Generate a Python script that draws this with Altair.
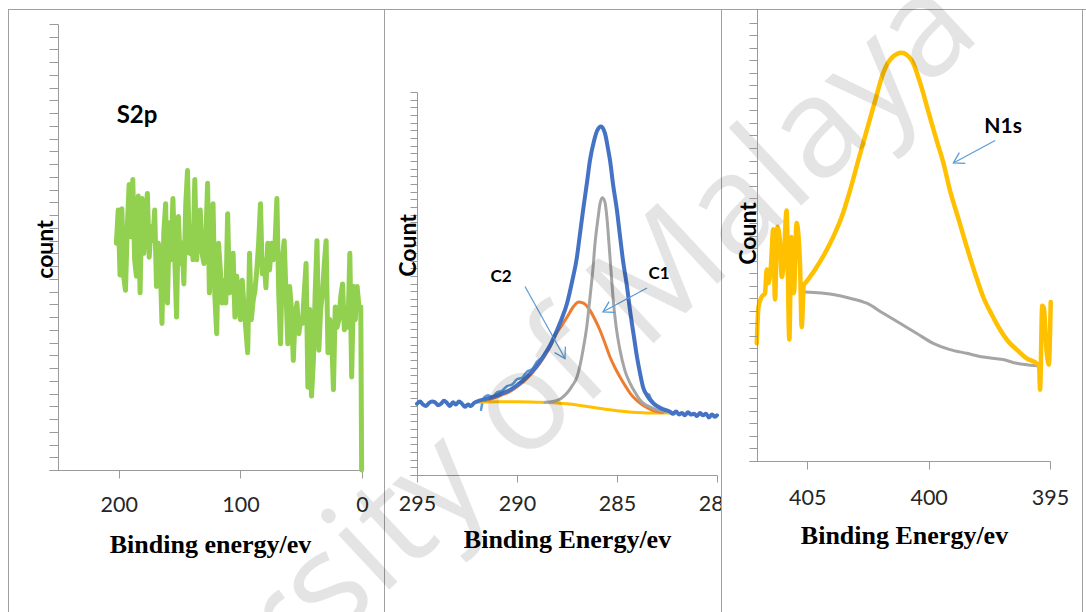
import altair as alt
import pandas as pd

# ------------------------------------------------------------------
# XPS spectra: S 2p survey, C 1s (with two fitted components) and N 1s
# ------------------------------------------------------------------

# ---- S 2p ----
S2P_ENERGY = [
    202.0, 200.5, 199.0, 197.5, 196.0, 194.5, 193.0, 191.5, 190.0, 188.5,
    187.0, 185.5, 184.0, 182.5, 181.0, 179.5, 178.0, 176.5, 175.0, 173.5,
    172.0, 170.5, 169.0, 167.5, 166.0, 164.5, 163.0, 161.5, 160.0, 158.5,
    157.0, 155.5, 154.0, 152.5, 151.0, 149.5, 148.0, 146.5, 145.0, 143.5,
    142.0, 140.5, 139.0, 137.5, 136.0, 134.5, 133.0, 131.5, 130.0, 128.5,
    127.0, 125.5, 124.0, 122.5, 121.0, 119.5, 118.0, 116.5, 115.0, 113.5,
    112.0, 110.5, 109.0, 107.5, 106.0, 104.5, 103.0, 101.5, 100.0, 98.5,
    97.0, 95.5, 94.0, 92.5, 91.0, 89.5, 88.0, 86.5, 85.0, 83.5,
    82.0, 80.5, 79.0, 77.5, 76.0, 74.5, 73.0, 71.5, 70.0, 68.5,
    67.0, 65.5, 64.0, 62.5, 61.0, 59.5, 58.0, 56.5, 55.0, 53.5,
    52.0, 50.5, 49.0, 47.5, 46.0, 44.5, 43.0, 41.5, 40.0, 38.5,
    37.0, 35.5, 34.0, 32.5, 31.0, 29.5, 28.0, 26.5, 25.0, 23.5,
    22.0, 20.5, 19.0, 17.5, 16.0, 14.5, 13.0, 11.5, 10.0, 8.5,
    7.0, 5.5, 4.0, 2.5, 1.0, 0.3,
]
S2P_COUNT = [
    17.8, 20.4, 15.3, 20.5, 15.2, 14.1, 19.1, 22.4, 18.3, 22.8,
    16.5, 15.2, 21.5, 13.9, 21.3, 17.0, 20.1, 21.7, 16.7, 19.1,
    18.0, 20.4, 14.4, 17.8, 16.5, 11.5, 18.6, 20.9, 13.1, 19.4,
    16.5, 21.3, 16.7, 12.0, 19.9, 16.2, 17.8, 14.6, 20.7, 23.5,
    17.0, 19.1, 16.5, 22.8, 16.5, 19.1, 20.4, 17.0, 16.2, 17.8,
    22.5, 13.9, 16.5, 20.9, 13.6, 10.7, 17.8, 15.7, 13.1, 14.9,
    13.1, 20.1, 13.9, 15.7, 17.0, 12.0, 15.2, 13.3, 11.8, 14.9,
    12.8, 11.0, 9.2, 17.0, 11.8, 13.3, 14.1, 15.7, 17.8, 20.9,
    15.4, 16.5, 14.3, 17.8, 15.7, 17.8, 16.5, 17.8, 21.3, 13.9,
    9.9, 16.5, 18.0, 13.9, 9.9, 14.4, 12.6, 8.6, 12.0, 13.1,
    10.7, 11.8, 11.5, 13.9, 16.2, 6.5, 12.6, 5.8, 8.6, 13.9,
    18.0, 9.4, 12.6, 13.9, 16.2, 18.0, 9.2, 11.8, 10.7, 6.3,
    12.8, 11.2, 11.8, 13.6, 14.6, 11.0, 11.8, 11.2, 17.0, 7.3,
    14.4, 11.8, 14.4, 12.8, 12.8, 0.0,
]

# ---- C 1s ----
C1S_ENERGY = [
    295.0, 294.85, 294.7, 294.55, 294.4, 294.25, 294.1, 293.95, 293.8, 293.65,
    293.5, 293.35, 293.2, 293.05, 292.9, 292.75, 292.6, 292.45, 292.3, 292.15,
    292.0, 291.6, 291.2, 290.8, 290.35, 290.0, 289.5, 289.0, 288.7, 288.35,
    288.0, 287.75, 287.5, 287.25, 287.0, 286.85, 286.7, 286.5, 286.35, 286.15,
    286.0, 285.8, 285.6, 285.45, 285.35, 285.2, 285.0, 284.85, 284.7, 284.5,
    284.35, 284.15, 284.0, 283.85, 283.7, 283.45, 283.2, 282.8, 282.35, 282.2,
    282.05, 281.9, 281.75, 281.6, 281.45, 281.3, 281.15, 281.0, 280.85, 280.7,
    280.55, 280.4, 280.25, 280.1, 280.0,
]
C1S_COUNT = [
    9.3, 9.6, 9.2, 9.0, 9.4, 9.6, 9.5, 9.1, 9.3, 9.7,
    9.4, 9.0, 9.5, 9.2, 9.6, 9.3, 8.9, 9.2, 9.0, 9.4,
    9.6, 9.9, 10.2, 10.6, 11.1, 11.7, 12.8, 14.3, 15.4, 16.9,
    18.9, 20.5, 22.4, 25.2, 28.5, 31.5, 34.5, 38.2, 41.1, 43.6,
    44.9, 45.5, 44.6, 42.6, 41.1, 38.0, 34.5, 31.2, 28.0, 24.6,
    21.5, 18.0, 15.4, 13.3, 11.5, 10.2, 9.4, 8.7, 8.25, 8.0,
    8.3, 7.9, 8.1, 7.8, 8.2, 7.9, 8.0, 7.7, 8.1, 7.8,
    8.0, 7.5, 7.9, 7.6, 7.8,
]
C1S_RAW_ENERGY = [291.8, 291.65, 291.45, 291.25, 291.0, 290.75, 290.5, 290.25,
                  290.0, 289.75, 289.5, 289.25, 289.0, 288.75, 288.5]
C1S_RAW_COUNT = [8.5, 10.1, 10.4, 10.2, 10.8, 11.0, 11.6, 11.8,
                 12.5, 12.7, 13.5, 13.8, 14.8, 15.3, 16.2]
C1S_RAW2_ENERGY = [283.6, 283.5, 283.4, 283.3, 283.2]
C1S_RAW2_COUNT = [11.0, 10.6, 10.5, 9.9, 9.6]

C1_ENERGY = [
    288.6, 288.2, 287.8, 287.5, 287.25, 287.0, 286.85, 286.7, 286.5, 286.35,
    286.2, 286.1, 285.95, 285.85, 285.73, 285.6, 285.5, 285.4, 285.3, 285.2,
    285.05, 284.85, 284.6, 284.35, 284.1, 283.85, 283.6, 283.35, 283.0, 282.6,
]
C1_COUNT = [
    9.5, 9.6, 10.0, 10.7, 11.6, 12.8, 14.3, 16.3, 19.6, 23.2,
    27.0, 30.2, 33.5, 35.4, 36.2, 35.6, 33.5, 30.2, 26.7, 23.2,
    19.5, 16.3, 13.6, 12.0, 10.8, 9.8, 9.2, 8.9, 8.5, 8.3,
]
C2_ENERGY = [
    291.6, 291.2, 290.8, 290.35, 290.0, 289.5, 289.0, 288.7, 288.35, 288.0,
    287.75, 287.5, 287.2, 287.0, 286.9, 286.75, 286.6, 286.35, 286.1, 285.85,
    285.6, 285.35, 285.1, 284.85, 284.6, 284.35, 284.0, 283.7, 283.35, 283.0,
    282.7,
]
C2_COUNT = [
    9.7, 10.0, 10.4, 10.9, 11.5, 12.6, 14.1, 15.2, 16.7, 18.6,
    19.6, 20.6, 21.9, 22.5, 22.6, 22.5, 22.3, 21.5, 20.3, 18.9,
    17.2, 15.4, 14.0, 12.8, 11.7, 10.7, 9.7, 9.1, 8.6, 8.3,
    8.2,
]
C1S_BG_ENERGY = [292.0, 291.0, 290.0, 289.0, 288.0, 287.5, 287.0, 286.5,
                 286.0, 285.5, 285.0, 284.5, 284.0, 283.5, 283.0, 282.35]
C1S_BG_COUNT = [9.5, 9.55, 9.55, 9.5, 9.4, 9.3, 9.15, 8.95,
                8.75, 8.55, 8.4, 8.25, 8.15, 8.1, 8.1, 8.1]

# ---- N 1s ----
N1S_ENERGY = [
    407.08, 407.01, 406.88, 406.74, 406.67, 406.6, 406.5, 406.4, 406.33, 406.23,
    406.12, 406.05, 405.99, 405.85, 405.74, 405.65, 405.55, 405.44, 405.3, 405.23,
    405.14, 405.09, 404.89, 404.61, 404.27, 403.93, 403.58, 403.24, 402.9, 402.55,
    402.2, 401.87, 401.52, 401.11, 400.7, 400.35, 400.01, 399.67, 399.39, 399.12,
    398.78, 398.43, 398.09, 397.75, 397.4, 397.06, 396.7, 396.37, 395.96, 395.55,
    395.45, 395.41, 395.32, 395.25, 395.15, 395.05, 394.97,
]
N1S_COUNT = [
    9.4, 12.3, 13.1, 13.4, 15.3, 14.2, 15.5, 18.5, 12.9, 18.7,
    17.4, 14.7, 15.3, 20.0, 9.7, 17.9, 13.4, 19.0, 15.8, 10.7,
    14.1, 14.2, 14.7, 15.5, 16.6, 17.9, 19.5, 21.6, 24.0, 26.4,
    28.8, 31.0, 32.2, 32.6, 32.0, 30.2, 27.9, 25.6, 23.8, 21.6,
    19.4, 17.1, 15.0, 13.1, 11.7, 10.5, 9.5, 8.9, 8.2, 7.8,
    7.6, 5.7, 12.4, 12.2, 9.0, 7.7, 12.7,
]
N1S_BG_ENERGY = [405.09, 403.93, 403.24, 402.55, 401.87, 401.18, 400.5,
                 399.81, 399.12, 398.43, 397.75, 396.93, 396.37, 395.55]
N1S_BG_COUNT = [13.5, 13.3, 13.0, 12.6, 11.8, 11.0, 10.2,
                9.4, 8.9, 8.6, 8.3, 8.1, 7.8, 7.6]

# ---- annotations (data coordinates of each panel) ----
S2P_LABEL = ("S2p", 185.0, 27.8)
C_LABELS = [("C2", 290.8, 25.9), ("C1", 282.9, 26.3)]
N_LABEL = ("N1s", 396.93, 26.7)
C2_ARROW = (289.6, 24.6, 287.6, 15.2)
C1_ARROW = (283.5, 24.4, 285.7, 21.3)
N1S_ARROW = (397.26, 25.6, 398.98, 23.8)

# ---- styling ----
W, H = 1086, 612
AXIS_GREY = "#9a9a9a"
FRAME_GREY = "#a0a0a0"
ARROW_BLUE = "#5B9BD5"
HEAD = "M-1,-0.6L0,0L-1,0.6"
LABEL_FONT = "Lato"
TITLE_FONT = "Liberation Serif"


def df(energy, count):
    return pd.DataFrame({"E": energy, "v": count})


def x_axis(values, title, axis_y, label_pad, title_y, title_x, tick=8, z=0):
    return alt.Axis(
        orient="bottom", offset=axis_y - H, values=values, title=title, grid=False,
        domainColor=AXIS_GREY, tickColor=AXIS_GREY, tickSize=tick,
        labelFont=LABEL_FONT, labelFontSize=21.5, labelColor="#262626",
        labelBaseline="alphabetic", labelPadding=label_pad, labelFlush=False,
        labelOverlap=False, titleFont=TITLE_FONT, titleFontSize=26,
        titleFontWeight="bold", titleColor="black", titleBaseline="alphabetic",
        titleAlign="center", titleX=title_x, titleY=title_y, zindex=z,
    )


def y_axis(values, title, axis_x, title_x, title_y, tick=8, z=0):
    return alt.Axis(
        orient="left", offset=-axis_x, values=values, title=title, labels=False,
        grid=False, domainColor=AXIS_GREY, tickColor=AXIS_GREY, tickSize=tick,
        titleFont=LABEL_FONT, titleFontSize=23, titleFontWeight="bold",
        titleColor="black", titleAngle=270, titleAlign="center",
        titleBaseline="middle", titleX=title_x - axis_x, titleY=title_y, zindex=z,
    )


class Panel:
    """Scales and axes shared by every layer of one spectrum panel."""

    def __init__(self, sx, sy, ax, ay):
        self.sx, self.sy, self.ax, self.ay = sx, sy, ax, ay

    def X(self, field):
        return alt.X(field, scale=self.sx, axis=self.ax)

    def Y(self, field):
        return alt.Y(field, scale=self.sy, axis=self.ay)

    def line(self, data, color, width, interp="linear"):
        return alt.Chart(data).mark_line(
            color=color, strokeWidth=width, strokeJoin="round", strokeCap="round",
            interpolate=interp,
        ).encode(x=self.X("E:Q"), y=self.Y("v:Q"), order="E:Q")

    def label(self, text, e, v, size):
        return alt.Chart(pd.DataFrame({"E": [e], "v": [v], "t": [text]})).mark_text(
            font=LABEL_FONT, fontWeight="bold", fontSize=size, color="black",
            align="center", baseline="middle",
        ).encode(x=self.X("E:Q"), y=self.Y("v:Q"), text="t:N")

    def arrow(self, coords, heading):
        x0, y0, x1, y1 = coords
        d = pd.DataFrame({"E": [x0], "v": [y0], "E2": [x1], "v2": [y1]})
        shaft = alt.Chart(d).mark_rule(color=ARROW_BLUE, strokeWidth=1.2).encode(
            x=self.X("E:Q"), y=self.Y("v:Q"), x2="E2:Q", y2="v2:Q",
        )
        head = alt.Chart(d).mark_point(
            shape=HEAD, filled=False, color=ARROW_BLUE, strokeWidth=1.3,
            size=420, angle=heading, opacity=1,
        ).encode(x=self.X("E2:Q"), y=self.Y("v2:Q"))
        return [shaft, head]


# ---------------- panel 1: S2p ----------------
P1 = Panel(
    alt.Scale(domain=[257.4, 0], range=[49, 362], zero=False, nice=False),
    alt.Scale(domain=[0, 35], range=[470, 24], zero=False, nice=False),
    x_axis([0, 100, 200], "Binding energy/ev", 470, 33.7, 82, 210),
    y_axis(list(range(36)), "count", 58, 45, 249, tick=9),
)
panel1 = alt.layer(
    P1.line(df(S2P_ENERGY, S2P_COUNT), "#92D050", 5),
    P1.label(*S2P_LABEL, 24),
)

# ---------------- panel 2: C1s ----------------
P2 = Panel(
    alt.Scale(domain=[295.35, 280], range=[410, 717], zero=False, nice=False),
    alt.Scale(domain=[0, 50], range=[475, 92], zero=False, nice=False),
    x_axis([280, 285, 290, 295], "Binding Energy/ev", 475, 28, 72, 567, tick=7),
    y_axis(list(range(51)), "Count", 417, 408, 245, tick=7),
)
panel2 = alt.layer(
    P2.line(df(C1S_RAW_ENERGY, C1S_RAW_COUNT), ARROW_BLUE, 2.5, "monotone"),
    P2.line(df(C1S_RAW2_ENERGY, C1S_RAW2_COUNT), ARROW_BLUE, 2.5, "monotone"),
    P2.line(df(C1S_BG_ENERGY, C1S_BG_COUNT), "#FFC000", 3, "monotone"),
    P2.line(df(C2_ENERGY, C2_COUNT), "#ED7D31", 3, "monotone"),
    P2.line(df(C1_ENERGY, C1_COUNT), "#A5A5A5", 3, "monotone"),
    P2.line(df(C1S_ENERGY, C1S_COUNT), "#4472C4", 4, "monotone"),
    *[P2.label(t, e, v, 17) for t, e, v in C_LABELS],
    *P2.arrow(C2_ARROW, 60.8),
    *P2.arrow(C1_ARROW, 151.7),
)

# ---------------- panel 3: N1s ----------------
P3 = Panel(
    alt.Scale(domain=[407.4, 395], range=[749, 1050], zero=False, nice=False),
    alt.Scale(domain=[0, 36.1], range=[461, 9], zero=False, nice=False),
    x_axis([395, 400, 405], "Binding Energy/ev", 461, 35.3, 82, 904, z=1),
    y_axis(list(range(36)), "Count", 757, 748, 233, z=1),
)
panel3 = alt.layer(
    P3.line(df(N1S_BG_ENERGY, N1S_BG_COUNT), "#A5A5A5", 3, "monotone"),
    P3.line(df(N1S_ENERGY, N1S_COUNT), "#FFC000", 4.5, "monotone"),
    P3.label(*N_LABEL, 21),
    *P3.arrow(N1S_ARROW, 150.8),
)

# ---------------- frame, panel backdrop, watermark ----------------
one = pd.DataFrame({"k": [0]})
# the right-hand panel sits on its own white sheet over the middle panel's edge
backdrop3 = alt.Chart(one).mark_rect(color="white").encode(
    x=alt.value(722), x2=alt.value(W), y=alt.value(10), y2=alt.value(H)
)
# faint translucent watermark laid over the whole figure
watermark = alt.Chart(pd.DataFrame({"t": ["University of Malaya"]})).mark_text(
    font="Open Sans", fontSize=140, color="black", opacity=0.1, angle=317,
    align="center", baseline="middle",
).encode(x=alt.value(472), y=alt.value(455), text="t:N")

frame = [
    alt.Chart(one).mark_rule(color=FRAME_GREY, strokeWidth=1).encode(
        x=alt.value(8), x2=alt.value(W), y=alt.value(9.5)
    )
]
for xv in (8.5, 384.5, 721.5, 1082.5):
    frame.append(
        alt.Chart(one).mark_rule(color=FRAME_GREY, strokeWidth=1).encode(
            x=alt.value(xv), y=alt.value(9), y2=alt.value(H)
        )
    )

chart = (
    alt.layer(backdrop3, panel1, panel2, panel3, *frame, watermark)
    .resolve_scale(x="independent", y="independent")
    .properties(width=W, height=H, padding=0, autosize="none", background="white")
    .configure_view(strokeWidth=0)
)

chart.save("out.html", embed_options={"renderer": "svg", "actions": False})
